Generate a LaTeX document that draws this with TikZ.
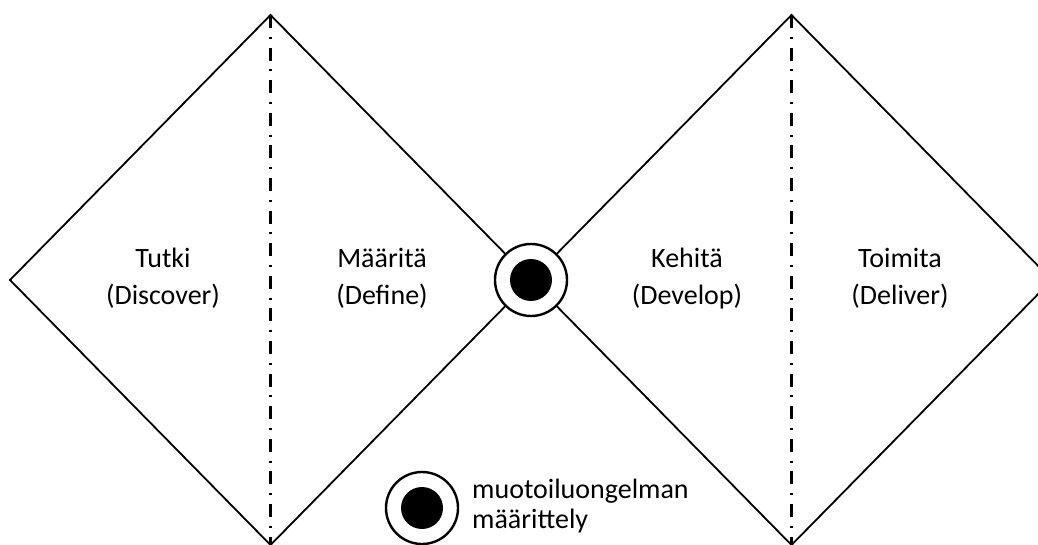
\documentclass[tikz,border=0pt]{standalone}
\usepackage{fontspec}
\setmainfont{Carlito}
\begin{document}
\begin{tikzpicture}[x=1bp,y=-1bp,
  edge/.style={line width=1.8bp, line join=miter},
  axisline/.style={line width=2.4bp, dash pattern=on 13bp off 8.8bp on 2bp off 8.8bp},
  lbl/.style={font=\fontsize{28bp}{37bp}\selectfont, align=center, inner sep=0pt, anchor=base},
  legtext/.style={font=\fontsize{28bp}{30bp}\selectfont, align=left, inner sep=0pt, anchor=base west},
  ring/.style={circle, draw, fill=white, line width=2.4bp, minimum size=72bp, inner sep=0pt},
  blackdot/.style={circle, fill=black, minimum size=42bp, inner sep=0pt}]
\useasboundingbox (0,0) rectangle (1038,545);
\begin{scope}
\clip (0,0) rectangle (1038,545);
\coordinate (LT) at (270.5,15);
\coordinate (LB) at (270.5,545);
\coordinate (LL) at (10,280);
\coordinate (M) at (531,280);
\coordinate (RT) at (791.5,15);
\coordinate (RB) at (791.5,545);
\coordinate (RR) at (1052,280);
\draw[edge] (LT) -- (M) -- (LB) -- (LL) -- cycle;
\draw[edge] (RT) -- (RR) -- (RB) -- (M) -- cycle;
\draw[axisline] (LT) -- (LB);
\draw[axisline] (RT) -- (RB);
\end{scope}
\node[ring] (c) at (M) {};
\node[blackdot] (cd) at (M) {};
\node[lbl] (tutki) at (163,305) {Tutki\\(Discover)};
\node[lbl] (maarita) at (382,305) {Määritä\\(Define)};
\node[lbl] (kehita) at (687,305) {Kehitä\\(Develop)};
\node[lbl] (toimita) at (900,305) {Toimita\\(Deliver)};
\node[ring] (lc) at (422,508) {};
\node[blackdot] (lcd) at (lc) {};
\node[legtext] (lt) at (472,528) {muotoiluongelman\\määrittely};
\end{tikzpicture}
\end{document}
